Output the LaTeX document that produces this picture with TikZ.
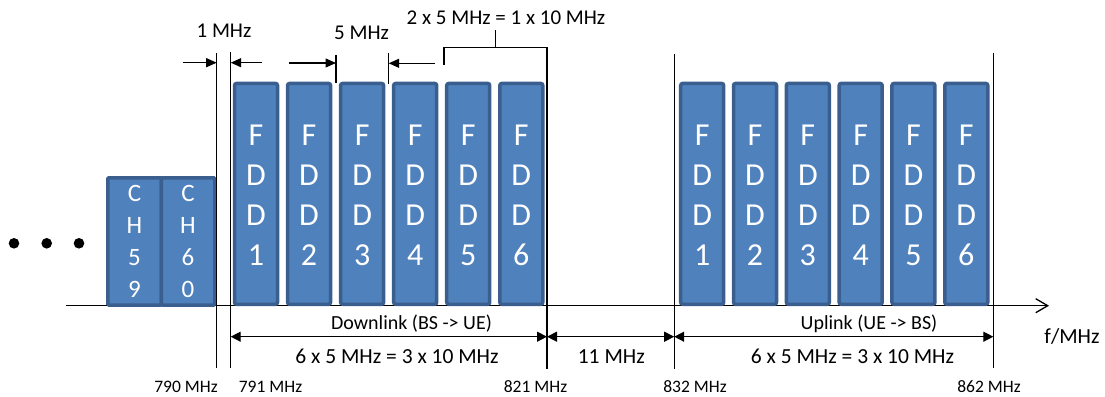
\documentclass[tikz,border=0pt]{standalone}
\usepackage{fontspec}
\setmainfont{Carlito}
\usetikzlibrary{arrows.meta}
\definecolor{boxfill}{HTML}{4F81BD}
\definecolor{boxline}{HTML}{3A5F8E}
\begin{document}
\begin{tikzpicture}[x=1pt,y=-1pt,
  band/.style={draw=boxline, fill=boxfill, line width=3.5pt, rounded corners=2pt,
    minimum width=43pt, minimum height=220.8pt, inner sep=0pt, outer sep=0pt},
  chband/.style={draw=boxline, fill=boxfill, line width=3.5pt, rounded corners=1pt,
    minimum width=53.5pt, minimum height=127.2pt, inner sep=0pt, outer sep=0pt},
  bandtxt/.style={text=white, align=center, inner sep=0pt,
    font=\fontsize{32}{40}\selectfont},
  chtxt/.style={text=white, align=center, inner sep=0pt,
    font=\fontsize{25}{32}\selectfont},
  thin/.style={line width=1.3pt, black},
  dim/.style={thin, {Triangle[length=10pt,width=10pt]}-{Triangle[length=10pt,width=10pt]}},
  onearrow/.style={thin, -{Triangle[length=10.5pt,width=9pt]}},
  lbl/.style={inner sep=0pt, font=\fontsize{20}{24}\selectfont},
  toplbl/.style={inner sep=0pt, font=\fontsize{21}{25}\selectfont},
  biglbl/.style={inner sep=0pt, font=\fontsize{21.5}{26}\selectfont},
  smalllbl/.style={inner sep=0pt, font=\fontsize{17.5}{21}\selectfont},
  dot/.style={circle, fill=black, minimum size=10.6pt, inner sep=0pt}
]
\useasboundingbox (0,0) rectangle (1105,396);

% axis
\coordinate (ax0) at (65.7,305.7);
\coordinate (ax1) at (1049,305.7);
\draw[thin, -{Straight Barb[length=12pt,width=14pt]}] (ax0) -- (ax1);

% dots
\node[dot] (dot1) at (14,243.3) {};
\node[dot] (dot2) at (46.7,243.3) {};
\node[dot] (dot3) at (79,243.3) {};

% CH boxes
\node[chband] (ch59) at (134.5,241.4) {};
\node[chband] (ch60) at (188,241.4) {};
\node[chtxt] at (ch59.center) {C\\H\\5\\9};
\node[chtxt] at (ch60.center) {C\\H\\6\\0};

% downlink bands
\foreach \i/\n in {0/1,1/2,2/3,3/4,4/5,5/6}{
  \node[band] (dl\n) at ({256+53.06*\i},193.85) {};
  \node[bandtxt] at ([yshift=-1.5pt]dl\n.center) {F\\D\\D\\\n};
}
% uplink bands
\foreach \i/\n in {0/1,1/2,2/3,3/4,4/5,5/6}{
  \node[band] (ul\n) at ({702.2+52.82*\i},193.85) {};
  \node[bandtxt] at ([yshift=-1.5pt]ul\n.center) {F\\D\\D\\\n};
}

% vertical marker lines
\coordinate (t790) at (216.7,53);   \coordinate (b790) at (216.7,368);
\coordinate (t791) at (230.7,52);   \coordinate (b791) at (230.7,368);
\coordinate (t821) at (547,47.3);   \coordinate (b821) at (547,369);
\coordinate (t832) at (674.2,54);   \coordinate (b832) at (674.2,369);
\coordinate (t862) at (993.3,53.3); \coordinate (b862) at (993.3,368);
\coordinate (m1t) at (336,55);      \coordinate (m1b) at (336,82.7);
\coordinate (m2t) at (388.7,53);    \coordinate (m2b) at (388.7,84.3);
\foreach \a/\b in {t790/b790,t791/b791,t821/b821,t832/b832,t862/b862,m1t/m1b,m2t/m2b}
  \draw[thin] (\a) -- (\b);

% top arrows
\coordinate (s1) at (182.7,62.7); \coordinate (e1) at (216.7,62.7);
\coordinate (s2) at (262,62.7);   \coordinate (e2) at (230.7,62.7);
\coordinate (s3) at (288.7,63);   \coordinate (e3) at (336,63);
\coordinate (s4) at (435,63.3);   \coordinate (e4) at (388.7,63.3);
\draw[onearrow] (s1) -- (e1);
\draw[onearrow] (s2) -- (e2);
\draw[onearrow] (s3) -- (e3);
\draw[onearrow] (s4) -- (e4);

% bracket
\coordinate (brL) at (444,65);
\coordinate (brC) at (444,47.3);
\coordinate (tk1) at (495.7,47.3);
\coordinate (tk2) at (495.7,30);
\draw[thin] (brL) -- (brC) -- (t821);
\draw[thin] (tk1) -- (tk2);

% bottom dimension arrows
\coordinate (a791) at (230.7,336.7);
\coordinate (a821) at (547,336.7);
\coordinate (a832) at (674.2,336.7);
\coordinate (a862) at (993.3,336.7);
\draw[dim] (a791) -- (a821);
\draw[dim] (a821) -- (a832);
\draw[dim] (a832) -- (a862);

% labels
\node[toplbl] (l1) at (224,31) {1 MHz};
\node[toplbl] (l5) at (361.6,33) {5 MHz};
\node[toplbl] (l25) at (506,18) {2 x 5 MHz = 1 x 10 MHz};
\node[lbl] (ldl) at (411.5,324) {Downlink (BS -> UE)};
\node[lbl] (lul) at (869,324) {Uplink (UE -> BS)};
\node[biglbl] (ldw) at (397,356.7) {6 x 5 MHz = 3 x 10 MHz};
\node[biglbl] (luw) at (852.5,356.7) {6 x 5 MHz = 3 x 10 MHz};
\node[biglbl] (l11) at (611.3,356.7) {11 MHz};
\node[biglbl] (lf) at (1072,336.7) {f/MHz};
\node[smalllbl] (f790) at (186,386.7) {790 MHz};
\node[smalllbl] (f791) at (270.5,386.7) {791 MHz};
\node[smalllbl] (f821) at (535.5,386.7) {821 MHz};
\node[smalllbl] (f832) at (695,386.7) {832 MHz};
\node[smalllbl] (f862) at (989,386.7) {862 MHz};
\end{tikzpicture}
\end{document}
